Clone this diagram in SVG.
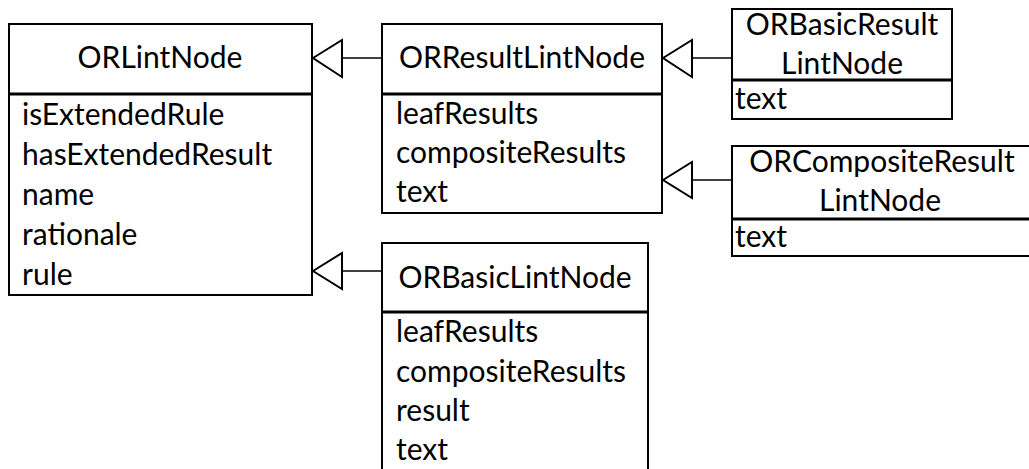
<svg xmlns="http://www.w3.org/2000/svg" width="1029" height="469" viewBox="0 0 1029 469">
  <style>
    .box { fill: #ffffff; stroke: #000000; stroke-width: 2; }
    .div { stroke: #000000; stroke-width: 3; }
    .t { font-family: Lato, "Liberation Sans", sans-serif; font-size: 30px; fill: #000000; }
    .c { text-anchor: middle; }
    .link { stroke: #000000; stroke-width: 1.5; fill: none; }
    .head { fill: #ffffff; stroke: #000000; stroke-width: 2; stroke-linejoin: miter; }
  </style>
  <rect width="1029" height="469" fill="#ffffff"/>

  <!-- generalization connectors: hollow triangle points at the parent class -->
  <g id="connectors">
    <line class="link" x1="342" y1="58" x2="382" y2="58"/>
    <polygon class="head" points="313,58 342,40 342,77"/>
    <line class="link" x1="342" y1="271" x2="382" y2="271"/>
    <polygon class="head" points="313,271 342,253 342,289"/>
    <line class="link" x1="692" y1="58" x2="732" y2="58"/>
    <polygon class="head" points="663,58 692,40 692,77"/>
    <line class="link" x1="692" y1="180" x2="732" y2="180"/>
    <polygon class="head" points="663,180 692,162 692,198"/>
  </g>

  <g id="ORLintNode">
    <rect class="box" x="9" y="24" width="303" height="271"/>
    <line class="div" x1="9" y1="94" x2="312" y2="94"/>
    <text class="t c" x="160" y="68">ORLintNode</text>
    <text class="t" x="22" y="125">isExtendedRule</text>
    <text class="t" x="22" y="165">hasExtendedResult</text>
    <text class="t" x="22" y="205">name</text>
    <text class="t" x="22" y="245">rationale</text>
    <text class="t" x="22" y="285">rule</text>
  </g>

  <g id="ORResultLintNode">
    <rect class="box" x="382" y="24" width="280" height="189"/>
    <line class="div" x1="382" y1="94" x2="662" y2="94"/>
    <text class="t c" x="522" y="68">ORResultLintNode</text>
    <text class="t" x="396" y="124">leafResults</text>
    <text class="t" x="396" y="163">compositeResults</text>
    <text class="t" x="396" y="202">text</text>
  </g>

  <g id="ORBasicResultLintNode">
    <rect class="box" x="732" y="9" width="220" height="110"/>
    <line class="div" x1="732" y1="80" x2="952" y2="80"/>
    <text class="t c" x="842" y="35">ORBasicResult</text>
    <text class="t c" x="842" y="74">LintNode</text>
    <text class="t" x="735" y="109">text</text>
  </g>

  <g id="ORCompositeResultLintNode">
    <rect class="box" x="732" y="146" width="300" height="110"/>
    <line class="div" x1="732" y1="219" x2="1032" y2="219"/>
    <text class="t c" x="882" y="172">ORCompositeResult</text>
    <text class="t c" x="880" y="211">LintNode</text>
    <text class="t" x="735" y="247">text</text>
  </g>

  <g id="ORBasicLintNode">
    <rect class="box" x="382" y="243" width="266" height="240"/>
    <line class="div" x1="382" y1="312" x2="648" y2="312"/>
    <text class="t c" x="515" y="288">ORBasicLintNode</text>
    <text class="t" x="396" y="342">leafResults</text>
    <text class="t" x="396" y="382">compositeResults</text>
    <text class="t" x="396" y="421">result</text>
    <text class="t" x="396" y="460">text</text>
  </g>
</svg>
